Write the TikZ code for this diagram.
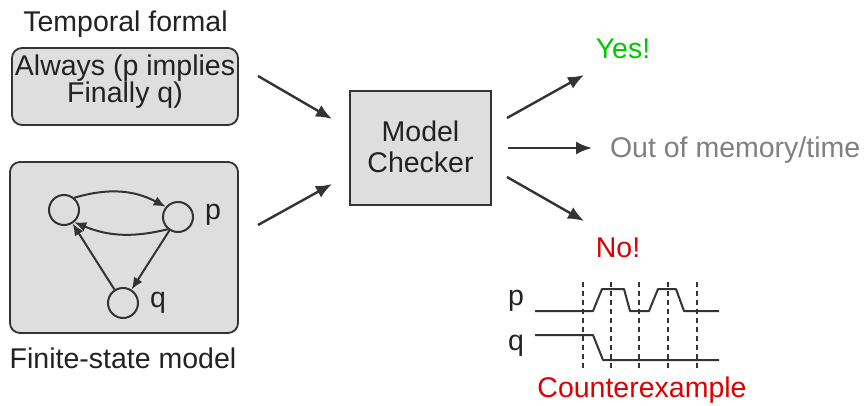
\documentclass[tikz,border=0pt]{standalone}
\usepackage{fontspec}
\setmainfont{Liberation Sans}
\usepackage{xcolor}
\usetikzlibrary{arrows.meta}
\tikzset{arrow/.style = {-{Latex[length = 16pt, width = 13pt]}, line width = 2.4pt, draw = lineColor}}
\tikzset{smallarrow/.style = {-{Latex[length = 12pt, width = 10pt]}, line width = 2pt, draw = lineColor}}
\tikzset{panel/.style = {draw = lineColor, fill = boxColor, line width = 1.8pt, inner sep = 0pt}}
\tikzset{state/.style = {circle, draw = lineColor, line width = 2pt, minimum size = 30pt, inner sep = 0pt}}
\tikzset{label/.style = {text = textColor, inner sep = 0pt, outer sep = 0pt, font = \fontsize{28.5}{28.5}\selectfont}}
\definecolor{lineColor}{RGB}{51,51,51}
\definecolor{boxColor}{RGB}{222,222,222}
\definecolor{textColor}{RGB}{34,34,34}
\definecolor{yesColor}{RGB}{0,200,0}
\definecolor{noColor}{RGB}{220,0,0}
\definecolor{grayColor}{RGB}{128,128,128}

\begin{document}
\begin{tikzpicture}[x=1pt,y=1pt]
\path[use as bounding box,fill=white] (0,0) rectangle (866,405);

% inputs
\node[panel, rounded corners = 10pt, minimum width = 226pt, minimum height = 77pt] (formula) at (125.0,318.5) {};
\node[label, anchor=base] (formulaA) at (125.0,329.0) {Always (p implies};
\node[label, anchor=base] (formulaB) at (125.0,302.0) {Finally q)};
\node[label, anchor=base] (temporal) at (125.5,373.0) {Temporal formal};

\node[panel, rounded corners = 10pt, minimum width = 228pt, minimum height = 171pt] (model) at (124.0,157.5) {};
\node[label, anchor=base] (finite) at (123.0, 37.0) {Finite-state model};

% states
\node[state] (s0) at ( 64.0,195.0) {};
\node[state] (sp) at (178.0,188.0) {};
\node[state] (sq) at (123.0,102.0) {};
\node[label, anchor=base west] (plabel) at (205.0,186.0) {p};
\node[label, anchor=base west] (qlabel) at (150.0, 98.0) {q};
\draw[smallarrow] (s0.50) to[bend left=22] (sp.140);
\draw[smallarrow] (sp.230) to[bend left=18] (s0.-50);
\draw[smallarrow] (sp) -- (sq);
\draw[smallarrow] (sq) -- (s0);

% checker
\node[panel, minimum width = 141pt, minimum height = 114pt] (checker) at (420.5,257.0) {};
\node[label, anchor=base] (checkerA) at (420.5,264.0) {Model};
\node[label, anchor=base] (checkerB) at (420.5,233.0) {Checker};

\coordinate (in1s) at (258,329);
\coordinate (in1e) at (332,286);
\coordinate (in2s) at (258,180);
\coordinate (in2e) at (332,221);
\draw[arrow] (in1s) -- (in1e);
\draw[arrow] (in2s) -- (in2e);

% outputs
\coordinate (yess) at (507,287);
\coordinate (yese) at (584,330);
\coordinate (outs) at (508,257);
\coordinate (oute) at (592,257);
\coordinate (nos) at (507,228);
\coordinate (noe) at (584,184);
\draw[arrow] (yess) -- (yese);
\draw[arrow] (outs) -- (oute);
\draw[arrow] (nos) -- (noe);

\node[label, anchor=base, text=yesColor] (yes) at (623.0,346.0) {Yes!};
\node[label, anchor=base west, text=grayColor] (out) at (610.0,248.0) {Out of memory/time};
\node[label, anchor=base, text=noColor] (no) at (618.0,148.0) {No!};
\node[label, anchor=base, text=noColor] (counter) at (642.0,  8.0) {Counterexample};

% counterexample trace
\node[label, anchor=base west] (ptrace) at (508.0,100.0) {p};
\node[label, anchor=base west] (qtrace) at (508.0, 55.0) {q};
\foreach \xx in {583,611,639,668,697}
  \draw[lineColor, line width=1.5pt, dash pattern=on 5pt off 4pt] (\xx,123) -- (\xx,37);
\draw[lineColor, line width=2pt, line join=round] (535,94) -- (593,94) -- (602,116) -- (624,116) -- (630,94)
  -- (649,94) -- (658,116) -- (676,116) -- (684,94) -- (719,94);
\draw[lineColor, line width=2pt, line join=round] (535,70) -- (593,70) -- (603,45) -- (719,45);
\end{tikzpicture}
\end{document}
